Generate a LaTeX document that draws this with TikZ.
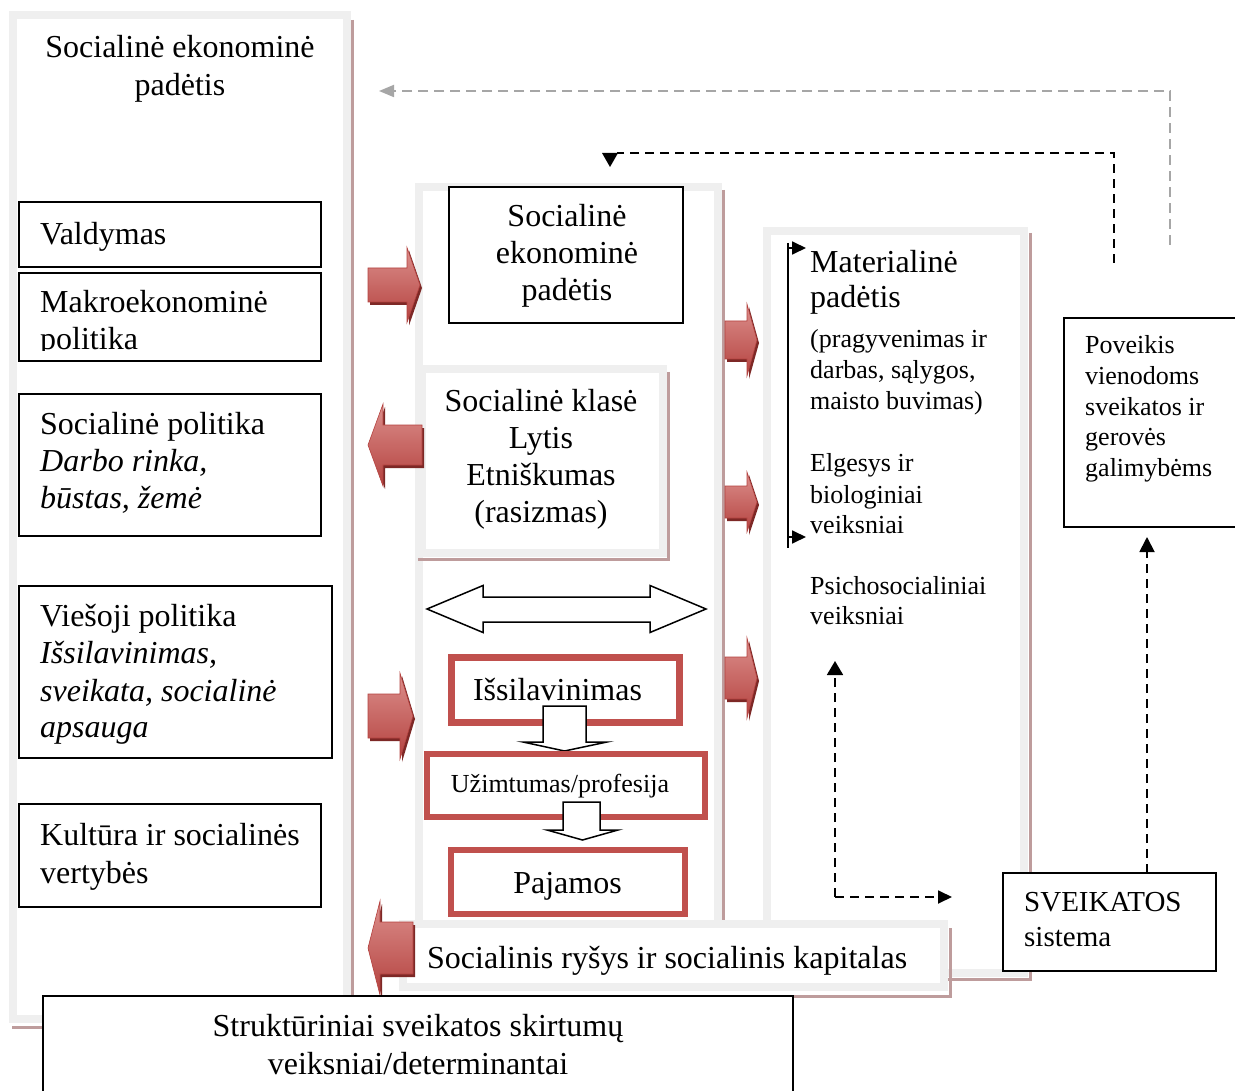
\documentclass[tikz,border=0pt]{standalone}
\usepackage{fontspec}
\setmainfont{Liberation Serif}
\usetikzlibrary{arrows.meta,calc}
\definecolor{framegrey}{HTML}{EFEFEF}
\definecolor{shadowbrown}{HTML}{BE9C9C}
\definecolor{boxred}{HTML}{C0504D}
\definecolor{darkred}{HTML}{7D2826}
\definecolor{lightred}{HTML}{DC8F8C}
\definecolor{midred}{HTML}{C0504D}
\definecolor{deepred}{HTML}{B4423F}
\definecolor{dashgrey}{HTML}{A6A6A6}
\newcommand\redarrow[6]{%
  \fill[darkred, shift={(2,3)}] (#1,{#4-#5}) -- (#2,{#4-#5}) -- (#2,{#4-#6}) -- (#3,#4) -- (#2,{#4+#6}) -- (#2,{#4+#5}) -- (#1,{#4+#5}) -- cycle;
  \shade[top color=lightred, middle color=midred, bottom color=deepred, draw=deepred, line width=0.6pt] (#1,{#4-#5}) -- (#2,{#4-#5}) -- (#2,{#4-#6}) -- (#3,#4) -- (#2,{#4+#6}) -- (#2,{#4+#5}) -- (#1,{#4+#5}) -- cycle;
}
\begin{document}
\begin{tikzpicture}[x=1pt,y=-1pt,
  panel/.style={draw=framegrey, line width=8pt, fill=white},
  pshadow/.style={draw=shadowbrown, line width=3pt},
  blackbox/.style={draw=black, line width=1.8pt, fill=white, inner sep=0pt},
  redbox/.style={draw=boxred, line width=6.5pt, fill=white, inner sep=0pt},
  big/.style={font=\fontsize{32}{37.5}\selectfont, inner sep=0pt},
  mid/.style={font=\fontsize{29}{35}\selectfont, inner sep=0pt},
  small/.style={font=\fontsize{26}{30.5}\selectfont, inner sep=0pt},
  lt/.style={anchor=base west},
  ct/.style={anchor=base},
  dashline/.style={draw=black, line width=1.8pt, dash pattern=on 9pt off 6pt},
  greydash/.style={draw=dashgrey, line width=1.8pt, dash pattern=on 10pt off 6pt},
  hollow/.style={draw=black, line width=1.5pt, fill=white, line join=miter}
]
\useasboundingbox (0,0) rectangle (1235,1091);
\fill[white] (0,0) rectangle (1235,1091);

% ---------------- left panel
\draw[panel] (13,15) rectangle (346.5,1019);
\draw[pshadow] (352,20) |- (12,1027);
\node[big,ct] (lt1) at (180,58) {Socialinė ekonominė};
\node[big,ct] (lt2) at (180,95.5) {padėtis};

\node[blackbox, minimum width=302, minimum height=65] (valdbox) at (170,234.5) {};
\node[big,lt] (vald) at (40,244.5) {Valdymas};

\node[blackbox, minimum width=302, minimum height=88] (makrobox) at (170,317) {};
\node[big,lt] (makro1) at (40,313) {Makroekonominė};
\begin{scope}
  \clip (19,273) rectangle (321,351);
  \node[big,lt] (makro2) at (40,350) {politika};
\end{scope}

\node[blackbox, minimum width=302, minimum height=142] (socpolbox) at (170,465) {};
\node[big,lt] (sp1) at (40,434) {Socialinė politika};
\node[big,lt] (sp2) at (40,471) {\itshape Darbo rinka,};
\node[big,lt] (sp3) at (40,508.5) {\itshape būstas, žemė};

\node[blackbox, minimum width=313, minimum height=172] (viesbox) at (175.5,672) {};
\node[big,lt] (vp1) at (40,626) {Viešoji politika};
\node[big,lt] (vp2) at (40,663) {\itshape Išsilavinimas,};
\node[big,lt] (vp3) at (40,701) {\itshape sveikata, socialinė};
\node[big,lt] (vp4) at (40,737) {\itshape apsauga};

\node[blackbox, minimum width=302, minimum height=103] (kultbox) at (170,855.5) {};
\node[big,lt] (ku1) at (40,845.5) {Kultūra ir socialinės};
\node[big,lt] (ku2) at (40,883) {vertybės};

% ---------------- middle panel
\draw[panel] (419,187) rectangle (718,930);
\draw[pshadow] (723,190) -- (723,930);

% ---------------- right panel
\draw[panel] (767,231) rectangle (1024,973);
\draw[pshadow] (1030,233) |- (772,979);

% middle: box 1
\node[blackbox, minimum width=234, minimum height=136] (sepbox) at (566,255) {};
\node[big,ct] (se1) at (567,226.5) {Socialinė};
\node[big,ct] (se2) at (567,263.5) {ekonominė};
\node[big,ct] (se3) at (567,300.5) {padėtis};

% middle: box 2
\draw[panel] (422,369) rectangle (663,553);
\draw[pshadow] (668,372) |- (418,559);
\node[big,ct] (sk1) at (541,411.5) {Socialinė klasė};
\node[big,ct] (sk2) at (541,448.5) {Lytis};
\node[big,ct] (sk3) at (541,485.5) {Etniškumas};
\node[big,ct] (sk4) at (541,522.5) {(rasizmas)};

% double arrow
\draw[hollow] (427,609) -- (483,585.5) -- (483,597) -- (650,597) -- (650,585.5) -- (706,609) -- (650,632.5) -- (650,622) -- (483,622) -- (483,632.5) -- cycle;

% red boxes and small arrows
\node[redbox, minimum width=228, minimum height=65] (issbox) at (565.5,690) {};
\node[big,ct] (iss) at (557.5,700) {Išsilavinimas};
\draw[hollow] (543,706) -- (586,706) -- (586,742) -- (607,742) -- (564.5,751) -- (523,742) -- (543,742) -- cycle;
\node[redbox, minimum width=278, minimum height=63] (uzbox) at (566,785.5) {};
\node[small,ct] (uz) at (560,792) {Užimtumas/profesija};
\draw[hollow] (563,802) -- (600,802) -- (600,830) -- (618,830) -- (582.5,840) -- (547,830) -- (563,830) -- cycle;
\node[redbox, minimum width=234, minimum height=64] (pajbox) at (568,882) {};
\node[big,ct] (paj) at (567.5,893) {Pajamos};

% social ties box
\draw[panel] (403,924) rectangle (944,987);
\draw[pshadow] (950,928) |- (403,996.5);
\node[big,lt] (rys) at (427,968.5) {Socialinis ryšys ir socialinis kapitalas};

% red 3D arrows
\redarrow{368}{407}{420}{285}{17}{37.5}
\redarrow{422}{383}{368}{445}{20}{41}
\redarrow{368}{400}{413}{716}{22}{43}
\redarrow{413}{380}{368}{948}{26}{47}
\redarrow{725}{747}{757}{340}{19}{36}
\redarrow{725}{747}{757}{502}{16}{30}
\redarrow{725}{747}{757}{678}{21}{40}

% right panel texts
\node[big,lt] (mat1) at (810,273) {Materialinė};
\node[big,lt] (mat2) at (810,308) {padėtis};
\node[small,lt] (mat3) at (810,347.5) {(pragyvenimas ir};
\node[small,lt] (mat4) at (810,378.5) {darbas, sąlygos,};
\node[small,lt] (mat5) at (810,409.5) {maisto buvimas)};
\node[small,lt] (elg1) at (810,471.5) {Elgesys ir};
\node[small,lt] (elg2) at (810,503) {biologiniai};
\node[small,lt] (elg3) at (810,533) {veiksniai};
\node[small,lt] (psi1) at (810,594.5) {Psichosocialiniai};
\node[small,lt] (psi2) at (810,624.5) {veiksniai};

\coordinate (brtop) at (788,243);
\coordinate (brbot) at (788,548);
\coordinate (brA) at (788,248);
\coordinate (brB) at (788,537);
\draw[line width=1.8pt] (brtop) -- (brbot);
\draw[line width=1.8pt, -{Triangle[length=14pt,width=13pt]}] (brA) -- ($(brA)+(18,0)$);
\draw[line width=1.8pt, -{Triangle[length=14pt,width=13pt]}] (brB) -- ($(brB)+(18,0)$);

% right boxes
\node[blackbox, minimum width=174, minimum height=209] (povbox) at (1151,422.5) {};
\node[small,lt] (pov1) at (1085,354) {Poveikis};
\node[small,lt] (pov2) at (1085,384.5) {vienodoms};
\node[small,lt] (pov3) at (1085,415) {sveikatos ir};
\node[small,lt] (pov4) at (1085,445.5) {gerovės};
\node[small,lt] (pov5) at (1085,476) {galimybėms};

\node[blackbox, minimum width=213, minimum height=98] (svbox) at (1109.5,922) {};
\node[mid,lt] (sv1) at (1024,911) {SVEIKATOS};
\node[mid,lt] (sv2) at (1024,946) {sistema};

% dashed connectors
\coordinate (gstart) at (1170,245);
\coordinate (gcorner) at (1170,91);
\coordinate (gend) at (379,91);
\draw[greydash, -{Triangle[length=15pt,width=12pt]}, dashgrey] (gstart) -- (gcorner) -- (gend);

\coordinate (bstart) at (1114,263);
\coordinate (bcorner) at (1114,153);
\coordinate (bend) at (617,153);
\coordinate (btip) at (610,167);
\draw[dashline] (bstart) -- (bcorner) -- (bend);
\fill (602,153) -- (618,153) -- (btip) -- cycle;

\coordinate (svtop) at (1147,873);
\coordinate (povbot) at (1147,537);
\draw[dashline, -{Triangle[length=15pt,width=15pt]}] (svtop) -- (povbot);

\coordinate (lcorner) at (835,897);
\coordinate (lup) at (835,661);
\coordinate (lright) at (952,897);
\draw[dashline, -{Triangle[length=14pt,width=16pt]}] (lcorner) -- (lup);
\draw[dashline, -{Triangle[length=14pt,width=13pt]}] (lcorner) -- (lright);

% bottom box
\node[blackbox, minimum width=750, minimum height=120] (botbox) at (418,1056) {};
\node[big,ct] (bot1) at (418,1036) {Struktūriniai sveikatos skirtumų};
\node[big,ct] (bot2) at (418,1074) {veiksniai/determinantai};
\end{tikzpicture}
\end{document}
